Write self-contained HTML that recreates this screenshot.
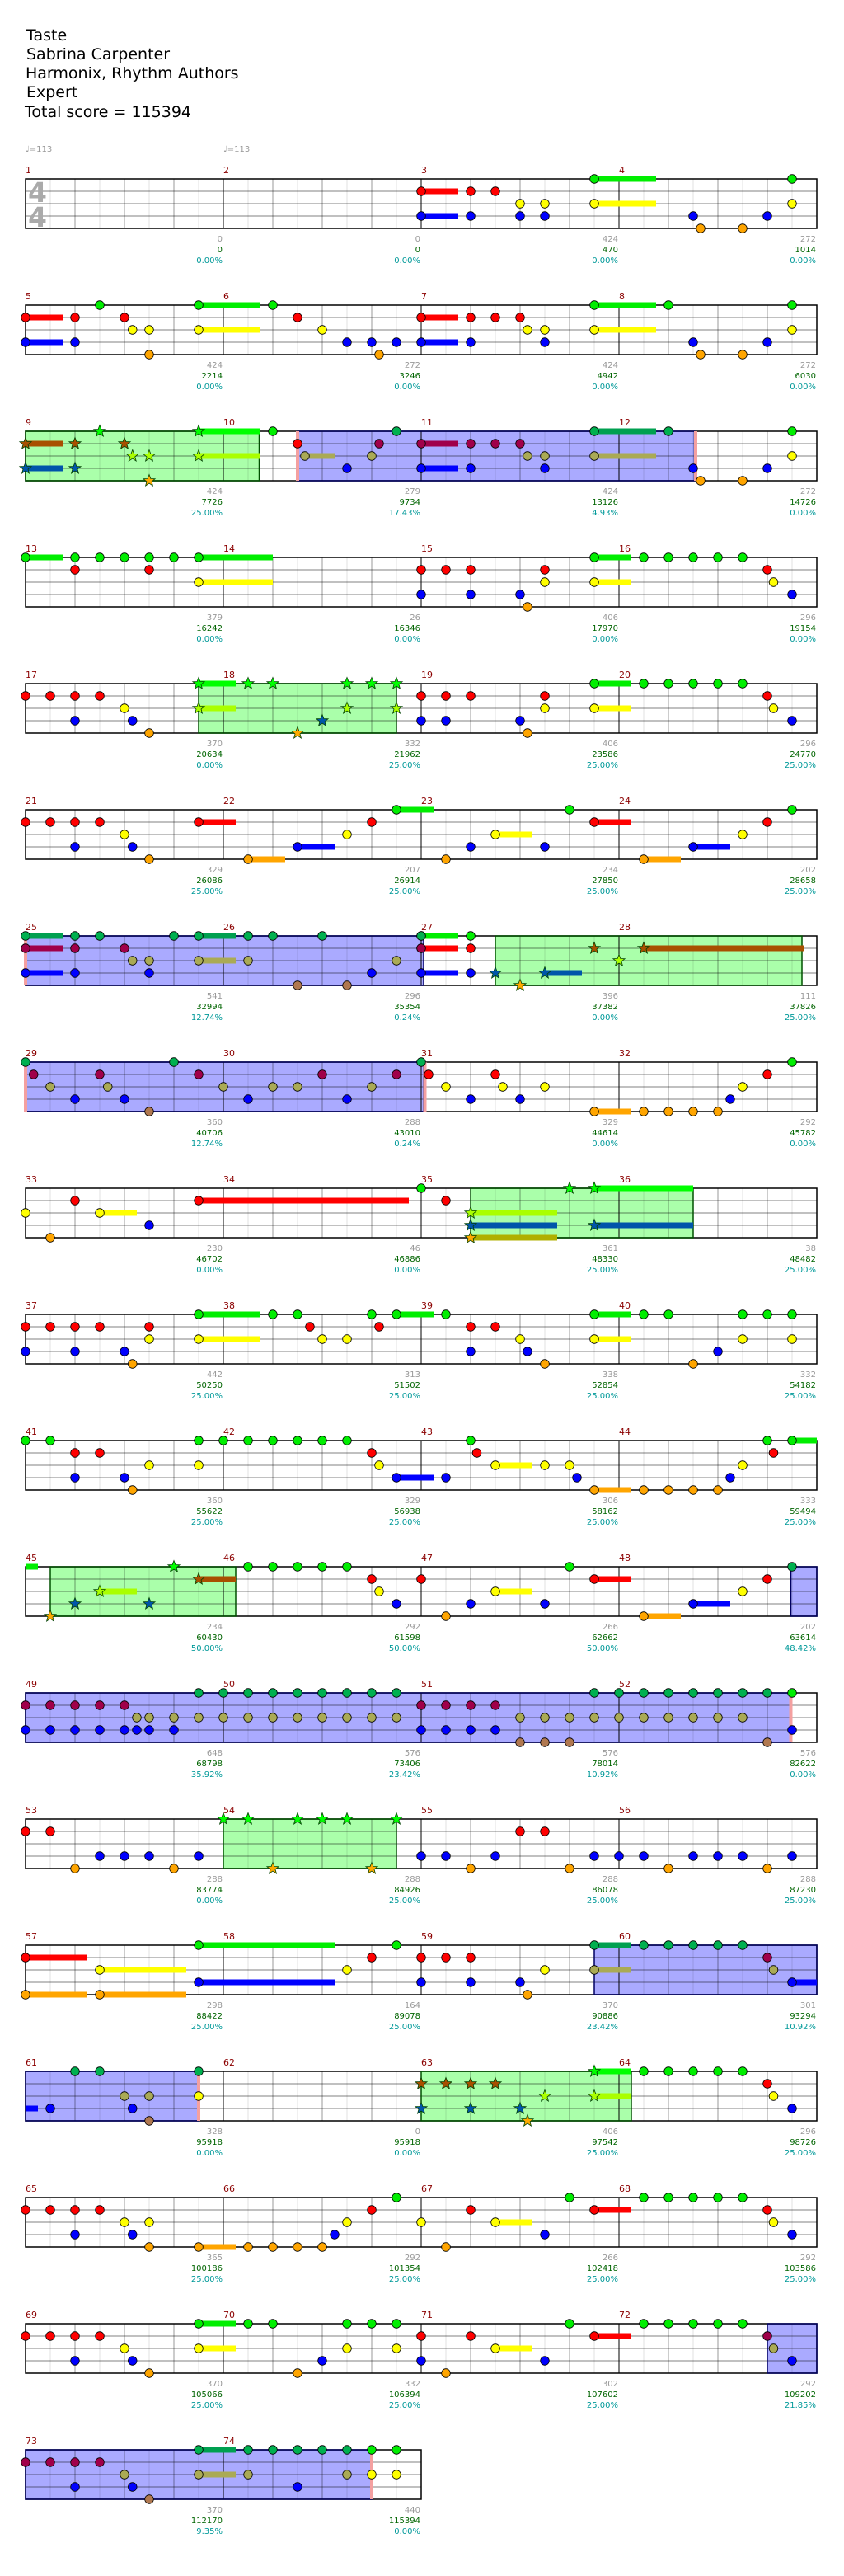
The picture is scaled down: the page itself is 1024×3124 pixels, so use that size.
<!DOCTYPE html>
<html><head><meta charset="utf-8"><style>
html,body{margin:0;padding:0;background:#fff;}
svg{display:block;}
text{font-family:"DejaVu Sans","Liberation Sans",sans-serif;}
.h{font-size:19px;fill:#000;}
.t{font-size:10px;fill:#999;}
.n{font-size:11px;fill:#8b0000;}
.a{font-size:10px;fill:#999;text-anchor:end;}
.s{font-size:10px;fill:#006400;text-anchor:end;}
.p{font-size:10px;fill:#009999;text-anchor:end;}
.ts{font-size:33px;fill:#aaa;font-weight:bold;}
</style></head><body>
<svg id="sv" xmlns="http://www.w3.org/2000/svg" width="1024" height="3124" viewBox="0 0 1024 3124">
<rect width="1024" height="3124" fill="#fff"/>
<g id="staffs"></g>
<text class="h" x="32" y="49">Taste</text>
<text class="h" x="32" y="72">Sabrina Carpenter</text>
<text class="h" x="31" y="95">Harmonix, Rhythm Authors</text>
<text class="h" x="32" y="118">Expert</text>
<text class="h" x="30" y="142">Total score = 115394</text>
<text class="t" x="31" y="184">♩=113</text>
<text class="t" x="271" y="184">♩=113</text>
<text class="ts" x="34" y="245">4</text>
<text class="ts" x="34" y="275">4</text>

<g transform="translate(0,217)"><text class="n" x="31" y="-7">1</text><text class="n" x="271" y="-7">2</text><text class="n" x="511" y="-7">3</text><text class="n" x="751" y="-7">4</text>
<text class="a" x="270" y="76">0</text><text class="s" x="270" y="89">0</text><text class="p" x="270" y="102">0.00%</text>
<text class="a" x="510" y="76">0</text><text class="s" x="510" y="89">0</text><text class="p" x="510" y="102">0.00%</text>
<text class="a" x="750" y="76">424</text><text class="s" x="750" y="89">470</text><text class="p" x="750" y="102">0.00%</text>
<text class="a" x="990" y="76">272</text><text class="s" x="990" y="89">1014</text><text class="p" x="990" y="102">0.00%</text></g>

<g transform="translate(0,370)"><text class="n" x="31" y="-7">5</text><text class="n" x="271" y="-7">6</text><text class="n" x="511" y="-7">7</text><text class="n" x="751" y="-7">8</text>
<text class="a" x="270" y="76">424</text><text class="s" x="270" y="89">2214</text><text class="p" x="270" y="102">0.00%</text>
<text class="a" x="510" y="76">272</text><text class="s" x="510" y="89">3246</text><text class="p" x="510" y="102">0.00%</text>
<text class="a" x="750" y="76">424</text><text class="s" x="750" y="89">4942</text><text class="p" x="750" y="102">0.00%</text>
<text class="a" x="990" y="76">272</text><text class="s" x="990" y="89">6030</text><text class="p" x="990" y="102">0.00%</text></g>

<g transform="translate(0,523)"><text class="n" x="31" y="-7">9</text><text class="n" x="271" y="-7">10</text><text class="n" x="511" y="-7">11</text><text class="n" x="751" y="-7">12</text>
<text class="a" x="270" y="76">424</text><text class="s" x="270" y="89">7726</text><text class="p" x="270" y="102">25.00%</text>
<text class="a" x="510" y="76">279</text><text class="s" x="510" y="89">9734</text><text class="p" x="510" y="102">17.43%</text>
<text class="a" x="750" y="76">424</text><text class="s" x="750" y="89">13126</text><text class="p" x="750" y="102">4.93%</text>
<text class="a" x="990" y="76">272</text><text class="s" x="990" y="89">14726</text><text class="p" x="990" y="102">0.00%</text></g>

<g transform="translate(0,676)"><text class="n" x="31" y="-7">13</text><text class="n" x="271" y="-7">14</text><text class="n" x="511" y="-7">15</text><text class="n" x="751" y="-7">16</text>
<text class="a" x="270" y="76">379</text><text class="s" x="270" y="89">16242</text><text class="p" x="270" y="102">0.00%</text>
<text class="a" x="510" y="76">26</text><text class="s" x="510" y="89">16346</text><text class="p" x="510" y="102">0.00%</text>
<text class="a" x="750" y="76">406</text><text class="s" x="750" y="89">17970</text><text class="p" x="750" y="102">0.00%</text>
<text class="a" x="990" y="76">296</text><text class="s" x="990" y="89">19154</text><text class="p" x="990" y="102">0.00%</text></g>

<g transform="translate(0,829)"><text class="n" x="31" y="-7">17</text><text class="n" x="271" y="-7">18</text><text class="n" x="511" y="-7">19</text><text class="n" x="751" y="-7">20</text>
<text class="a" x="270" y="76">370</text><text class="s" x="270" y="89">20634</text><text class="p" x="270" y="102">0.00%</text>
<text class="a" x="510" y="76">332</text><text class="s" x="510" y="89">21962</text><text class="p" x="510" y="102">25.00%</text>
<text class="a" x="750" y="76">406</text><text class="s" x="750" y="89">23586</text><text class="p" x="750" y="102">25.00%</text>
<text class="a" x="990" y="76">296</text><text class="s" x="990" y="89">24770</text><text class="p" x="990" y="102">25.00%</text></g>

<g transform="translate(0,982)"><text class="n" x="31" y="-7">21</text><text class="n" x="271" y="-7">22</text><text class="n" x="511" y="-7">23</text><text class="n" x="751" y="-7">24</text>
<text class="a" x="270" y="76">329</text><text class="s" x="270" y="89">26086</text><text class="p" x="270" y="102">25.00%</text>
<text class="a" x="510" y="76">207</text><text class="s" x="510" y="89">26914</text><text class="p" x="510" y="102">25.00%</text>
<text class="a" x="750" y="76">234</text><text class="s" x="750" y="89">27850</text><text class="p" x="750" y="102">25.00%</text>
<text class="a" x="990" y="76">202</text><text class="s" x="990" y="89">28658</text><text class="p" x="990" y="102">25.00%</text></g>

<g transform="translate(0,1135)"><text class="n" x="31" y="-7">25</text><text class="n" x="271" y="-7">26</text><text class="n" x="511" y="-7">27</text><text class="n" x="751" y="-7">28</text>
<text class="a" x="270" y="76">541</text><text class="s" x="270" y="89">32994</text><text class="p" x="270" y="102">12.74%</text>
<text class="a" x="510" y="76">296</text><text class="s" x="510" y="89">35354</text><text class="p" x="510" y="102">0.24%</text>
<text class="a" x="750" y="76">396</text><text class="s" x="750" y="89">37382</text><text class="p" x="750" y="102">0.00%</text>
<text class="a" x="990" y="76">111</text><text class="s" x="990" y="89">37826</text><text class="p" x="990" y="102">25.00%</text></g>

<g transform="translate(0,1288)"><text class="n" x="31" y="-7">29</text><text class="n" x="271" y="-7">30</text><text class="n" x="511" y="-7">31</text><text class="n" x="751" y="-7">32</text>
<text class="a" x="270" y="76">360</text><text class="s" x="270" y="89">40706</text><text class="p" x="270" y="102">12.74%</text>
<text class="a" x="510" y="76">288</text><text class="s" x="510" y="89">43010</text><text class="p" x="510" y="102">0.24%</text>
<text class="a" x="750" y="76">329</text><text class="s" x="750" y="89">44614</text><text class="p" x="750" y="102">0.00%</text>
<text class="a" x="990" y="76">292</text><text class="s" x="990" y="89">45782</text><text class="p" x="990" y="102">0.00%</text></g>

<g transform="translate(0,1441)"><text class="n" x="31" y="-7">33</text><text class="n" x="271" y="-7">34</text><text class="n" x="511" y="-7">35</text><text class="n" x="751" y="-7">36</text>
<text class="a" x="270" y="76">230</text><text class="s" x="270" y="89">46702</text><text class="p" x="270" y="102">0.00%</text>
<text class="a" x="510" y="76">46</text><text class="s" x="510" y="89">46886</text><text class="p" x="510" y="102">0.00%</text>
<text class="a" x="750" y="76">361</text><text class="s" x="750" y="89">48330</text><text class="p" x="750" y="102">25.00%</text>
<text class="a" x="990" y="76">38</text><text class="s" x="990" y="89">48482</text><text class="p" x="990" y="102">25.00%</text></g>

<g transform="translate(0,1594)"><text class="n" x="31" y="-7">37</text><text class="n" x="271" y="-7">38</text><text class="n" x="511" y="-7">39</text><text class="n" x="751" y="-7">40</text>
<text class="a" x="270" y="76">442</text><text class="s" x="270" y="89">50250</text><text class="p" x="270" y="102">25.00%</text>
<text class="a" x="510" y="76">313</text><text class="s" x="510" y="89">51502</text><text class="p" x="510" y="102">25.00%</text>
<text class="a" x="750" y="76">338</text><text class="s" x="750" y="89">52854</text><text class="p" x="750" y="102">25.00%</text>
<text class="a" x="990" y="76">332</text><text class="s" x="990" y="89">54182</text><text class="p" x="990" y="102">25.00%</text></g>

<g transform="translate(0,1747)"><text class="n" x="31" y="-7">41</text><text class="n" x="271" y="-7">42</text><text class="n" x="511" y="-7">43</text><text class="n" x="751" y="-7">44</text>
<text class="a" x="270" y="76">360</text><text class="s" x="270" y="89">55622</text><text class="p" x="270" y="102">25.00%</text>
<text class="a" x="510" y="76">329</text><text class="s" x="510" y="89">56938</text><text class="p" x="510" y="102">25.00%</text>
<text class="a" x="750" y="76">306</text><text class="s" x="750" y="89">58162</text><text class="p" x="750" y="102">25.00%</text>
<text class="a" x="990" y="76">333</text><text class="s" x="990" y="89">59494</text><text class="p" x="990" y="102">25.00%</text></g>

<g transform="translate(0,1900)"><text class="n" x="31" y="-7">45</text><text class="n" x="271" y="-7">46</text><text class="n" x="511" y="-7">47</text><text class="n" x="751" y="-7">48</text>
<text class="a" x="270" y="76">234</text><text class="s" x="270" y="89">60430</text><text class="p" x="270" y="102">50.00%</text>
<text class="a" x="510" y="76">292</text><text class="s" x="510" y="89">61598</text><text class="p" x="510" y="102">50.00%</text>
<text class="a" x="750" y="76">266</text><text class="s" x="750" y="89">62662</text><text class="p" x="750" y="102">50.00%</text>
<text class="a" x="990" y="76">202</text><text class="s" x="990" y="89">63614</text><text class="p" x="990" y="102">48.42%</text></g>

<g transform="translate(0,2053)"><text class="n" x="31" y="-7">49</text><text class="n" x="271" y="-7">50</text><text class="n" x="511" y="-7">51</text><text class="n" x="751" y="-7">52</text>
<text class="a" x="270" y="76">648</text><text class="s" x="270" y="89">68798</text><text class="p" x="270" y="102">35.92%</text>
<text class="a" x="510" y="76">576</text><text class="s" x="510" y="89">73406</text><text class="p" x="510" y="102">23.42%</text>
<text class="a" x="750" y="76">576</text><text class="s" x="750" y="89">78014</text><text class="p" x="750" y="102">10.92%</text>
<text class="a" x="990" y="76">576</text><text class="s" x="990" y="89">82622</text><text class="p" x="990" y="102">0.00%</text></g>

<g transform="translate(0,2206)"><text class="n" x="31" y="-7">53</text><text class="n" x="271" y="-7">54</text><text class="n" x="511" y="-7">55</text><text class="n" x="751" y="-7">56</text>
<text class="a" x="270" y="76">288</text><text class="s" x="270" y="89">83774</text><text class="p" x="270" y="102">0.00%</text>
<text class="a" x="510" y="76">288</text><text class="s" x="510" y="89">84926</text><text class="p" x="510" y="102">25.00%</text>
<text class="a" x="750" y="76">288</text><text class="s" x="750" y="89">86078</text><text class="p" x="750" y="102">25.00%</text>
<text class="a" x="990" y="76">288</text><text class="s" x="990" y="89">87230</text><text class="p" x="990" y="102">25.00%</text></g>

<g transform="translate(0,2359)"><text class="n" x="31" y="-7">57</text><text class="n" x="271" y="-7">58</text><text class="n" x="511" y="-7">59</text><text class="n" x="751" y="-7">60</text>
<text class="a" x="270" y="76">298</text><text class="s" x="270" y="89">88422</text><text class="p" x="270" y="102">25.00%</text>
<text class="a" x="510" y="76">164</text><text class="s" x="510" y="89">89078</text><text class="p" x="510" y="102">25.00%</text>
<text class="a" x="750" y="76">370</text><text class="s" x="750" y="89">90886</text><text class="p" x="750" y="102">23.42%</text>
<text class="a" x="990" y="76">301</text><text class="s" x="990" y="89">93294</text><text class="p" x="990" y="102">10.92%</text></g>

<g transform="translate(0,2512)"><text class="n" x="31" y="-7">61</text><text class="n" x="271" y="-7">62</text><text class="n" x="511" y="-7">63</text><text class="n" x="751" y="-7">64</text>
<text class="a" x="270" y="76">328</text><text class="s" x="270" y="89">95918</text><text class="p" x="270" y="102">0.00%</text>
<text class="a" x="510" y="76">0</text><text class="s" x="510" y="89">95918</text><text class="p" x="510" y="102">0.00%</text>
<text class="a" x="750" y="76">406</text><text class="s" x="750" y="89">97542</text><text class="p" x="750" y="102">25.00%</text>
<text class="a" x="990" y="76">296</text><text class="s" x="990" y="89">98726</text><text class="p" x="990" y="102">25.00%</text></g>

<g transform="translate(0,2665)"><text class="n" x="31" y="-7">65</text><text class="n" x="271" y="-7">66</text><text class="n" x="511" y="-7">67</text><text class="n" x="751" y="-7">68</text>
<text class="a" x="270" y="76">365</text><text class="s" x="270" y="89">100186</text><text class="p" x="270" y="102">25.00%</text>
<text class="a" x="510" y="76">292</text><text class="s" x="510" y="89">101354</text><text class="p" x="510" y="102">25.00%</text>
<text class="a" x="750" y="76">266</text><text class="s" x="750" y="89">102418</text><text class="p" x="750" y="102">25.00%</text>
<text class="a" x="990" y="76">292</text><text class="s" x="990" y="89">103586</text><text class="p" x="990" y="102">25.00%</text></g>

<g transform="translate(0,2818)"><text class="n" x="31" y="-7">69</text><text class="n" x="271" y="-7">70</text><text class="n" x="511" y="-7">71</text><text class="n" x="751" y="-7">72</text>
<text class="a" x="270" y="76">370</text><text class="s" x="270" y="89">105066</text><text class="p" x="270" y="102">25.00%</text>
<text class="a" x="510" y="76">332</text><text class="s" x="510" y="89">106394</text><text class="p" x="510" y="102">25.00%</text>
<text class="a" x="750" y="76">302</text><text class="s" x="750" y="89">107602</text><text class="p" x="750" y="102">25.00%</text>
<text class="a" x="990" y="76">292</text><text class="s" x="990" y="89">109202</text><text class="p" x="990" y="102">21.85%</text></g>

<g transform="translate(0,2971)"><text class="n" x="31" y="-7">73</text><text class="n" x="271" y="-7">74</text>
<text class="a" x="270" y="76">370</text><text class="s" x="270" y="89">112170</text><text class="p" x="270" y="102">9.35%</text>
<text class="a" x="510" y="76">440</text><text class="s" x="510" y="89">115394</text><text class="p" x="510" y="102">0.00%</text></g>
</svg>
<script>
(function(){
var NS="http://www.w3.org/2000/svg";
var root=document.getElementById("staffs");
function el(n,a,p){var e=document.createElementNS(NS,n);for(var k in a)e.setAttribute(k,a[k]);(p||root).appendChild(e);return e;}
var LY={g:0,r:15,y:30,b:45,o:60};
var N={g:'#00ee00',r:'#ff0000',y:'#ffff00',b:'#0000ff',o:'#ffa500'};
var P={g:'#00b050',r:'#a0004a',y:'#aaaa55',b:'#0000ff',o:'#b07850'};
var PB={g:'#00a050',r:'#a0004a',y:'#aaaa55',b:'#0000ff',o:'#b07850'};
var S={g:'#00ff00',r:'#a85000',y:'#aaff00',b:'#0055aa',o:'#ffaa00'};
var SB={g:'#00ff00',r:'#a85000',y:'#aaff00',b:'#0055aa',o:'#b0b000'};
var rows=[
{n:"r32:3 b32:3 r36 r38 y40 y42 b36 b40 b42 g46:5 y46:5 g62 y62 b54 b60 o54.6 o58"},
{n:"g6 g14:5 g20 g46:5 g52 g62 r0:3 r4 r8 r22 r32:3 r36 r38 r40 y8.65 y10 y14:5 y24 y40.6 y42 y46:5 y62 b0:3 b4 b26 b28 b30 b32:3 b36 b42 b54 b60 o10 o28.6 o54.6 o58"},
{R:[["g",0,18.9],["b",22,54.1]],k:[22,54.2],n:"*g6 *g14:5 *r0:3 *r4 *r8 *y8.65 *y10 *y14:5 *b0:3 *b4 *o10 g20 pg30 pg46:5 pg52 g62 r22 pr28.6 pr32:3 pr36 pr38 pr40 py22.6:2.4 py28 py40.6 py42 py46:5 y62 b26 b32:3 b36 b42 b54 b60 o54.6 o58"},
{n:"g0:3 g4 g6 g8 g10 g12 g14:6 g46:3 g50 g52 g54 g56 g58 r4 r10 r32 r34 r36 r42 r60 y14:6 y42 y46:3 y60.5 b32 b36 b40 b62 o40.6"},
{R:[["g",14,30]],n:"*g14:3 *g18 *g20 *g26 *g28 *g30 *y14:3 *y26 *y30 *b24 *o22 r0 r2 r4 r6 y8 b4 b8.65 o10 r32 r34 r36 r42 r60 y42 y46:3 y60.5 b32 b34 b40 b62 o40.6 g46:3 g50 g52 g54 g56 g58"},
{n:"r0 r2 r4 r6 r14:3 r28 r46:3 r60 y8 y26 y38:3 y58 b4 b8.65 b22:3 b36 b42 b54:3 o10 o18:3 o34 o50:3 g30:3 g44 g62"},
{R:[["b",0,32.2],["g",38,62.8]],k:[0],n:"pg0:3 pg4 pg6 pg12 pg14:3 pg18 pg20 pg24 g32:3 pg32 pr0:3 pr4 pr8 r32:3 pr32 py8.65 py10 py14:3 py18 py30 b0:3 b4 b10 b28 b32:3 b36 g36 r36 po22 po26 *b38 *b42:3 *o40 *r46 *r50:13 *y48"},
{R:[["b",0,32.2]],k:[0,32.3],n:"pg0 pg12 pg32 pr0.65 pr6 pr14 pr24 pr30 r32.6 py2 py6.65 py16 py20 py22 py28 b4 b8 b18 b26 po10 y34 y38.6 y42 y58 b36 b40 b57 o46:3 o50 o52 o54 o56 r38 r60 g62"},
{R:[["g",36,54]],n:"y0 r4 y6:3 b10 o2 r14:17 g32 r34 *g44 *g46:8 *y36:7 *b36:7 *b46:8 *o36:7"},
{n:"g14:5 g20 g22 g28 g30:3 g34 g46:3 g50 g52 g58 g60 g62 r0 r2 r4 r6 r10 r23 r28.6 r36 r38 y10 y14:5 y24 y26 y40 y46:3 y58 y62 b0 b4 b8 b36 b40.6 b56 o8.65 o42 o54"},
{n:"g0 g2 g14 g16 g18 g20 g22 g24 g26 g36 g60 g62:2 r4 r6 r28 r36.5 r60.5 y10 y14 y28.6 y38:3 y42 y44 y58 b4 b8 b30:3 b34 b44.6 b57 o8.65 o46:3 o50 o52 o54 o56"},
{R:[["g",2,17],["b",61.9,64]],n:"xg0:1 *g12 *r14:3 *y6:3 *b4 *b10 *o2 g18 g20 g22 g24 g26 g44 pg62 r28 r32 r46:3 r60 y28.6 y38:3 y58 b30 b36 b42 b54:3 o34 o50:3"},
{R:[["b",0,61.9]],k:[61.9],n:"pg14 pg16 pg18 pg20 pg22 pg24 pg26 pg28 pg30 pg46 pg48 pg50 pg52 pg54 pg56 pg58 pg60 g62 pr0 pr2 pr4 pr6 pr8 pr32 pr34 pr36 pr38 py9 py10 py12 py14 py16 py18 py20 py22 py24 py26 py28 py30 py40 py42 py44 py46 py48 py50 py52 py54 py56 py58 b0 b2 b4 b6 b8 b9 b10 b12 b32 b34 b36 b38 b62 po40 po42 po44 po60"},
{R:[["g",16,30]],n:"*g16 *g18 *g22 *g24 *g26 *g30 *o20 *o28 r0 r2 b6 b8 b10 b14 o4 o12 b32 b34 b38 r40 r42 o36 o44 b46 b48 b50 b54 b56 b58 b62 o52 o60"},
{R:[["b",46,64]],n:"g14:11 g30 pg46:3 pg50 pg52 pg54 pg56 pg58 r0:5 r28 r32 r34 r36 pr60 y6:7 y26 y42 py46:3 py60.5 b14:11 b32 b36 b40 b62:2 o0:5 o6:7 o40.6"},
{R:[["b",0,14],["g",32,49]],k:[14],n:"xb0:1 pg4 pg6 pg14 py8 py10 y14 b2 b8.65 po10 *r32 *r34 *r36 *r38 *y42 *y46:3 *b32 *b36 *b40 *o40.6 *g46:3 g50 g52 g54 g56 g58 r60 y60.5 b62"},
{n:"g30 g44 g50 g52 g54 g56 g58 r0 r2 r4 r6 r28 r36 r46:3 r60 y8 y10 y26 y32 y38:3 y60.5 b4 b8.65 b25 b42 b62 o10 o14:3 o18 o20 o22 o24 o34"},
{R:[["b",60,64]],n:"g14:3 g18 g20 g26 g28 g30 g44 g50 g52 g54 g56 g58 r0 r2 r4 r6 r32 r36 r46:3 pr60 y8 y14:3 y26 y30 y38:3 py60.5 b4 b8.65 b24 b32 b42 b62 o10 o22 o34"},
{R:[["b",0,28]],k:[28],w:480,n:"pr0 pr2 pr4 pr6 pg14:3 pg18 pg20 pg22 pg24 pg26 g28 g30 py8 py14:3 py18 py26 y28 y30 b4 b8.65 b22 po10"}
];
function starPts(cx,cy,R){var p=[];for(var i=0;i<10;i++){var rr=i%2?R*0.42:R;var a=-Math.PI/2+i*Math.PI/5;p.push((cx+rr*Math.cos(a)).toFixed(1)+","+(cy+rr*Math.sin(a)).toFixed(1));}return p.join(" ");}
rows.forEach(function(row,ri){
  var T=217+153*ri, X=31, W=row.w||960;
  var g=el("g",{transform:"translate(0,"+T+")"});
  el("rect",{x:X,y:0,width:W,height:60,fill:"#fff"},g);
  (row.R||[]).forEach(function(r){
    var x1=X+r[1]*15,x2=X+Math.min(r[2]*15,W);
    el("rect",{x:x1,y:0,width:x2-x1,height:60,fill:r[0]=="g"?"#aaffaa":"#aaaaff"},g);
  });
  for(var i=1;i<W/30;i++){var x=X+i*30;var c=(i%8==0)?"#000":(i%2==0?"rgba(0,0,0,0.4)":"rgba(0,0,0,0.12)");
    el("line",{x1:x,y1:0,x2:x,y2:60,stroke:c,"stroke-width":1},g);}
  for(var j=1;j<4;j++)el("line",{x1:X,y1:j*15,x2:X+W,y2:j*15,stroke:"rgba(0,0,0,0.4)","stroke-width":1.2},g);
  el("rect",{x:X,y:0,width:W,height:60,fill:"none",stroke:"#000","stroke-width":1.5},g);
  (row.R||[]).forEach(function(r){
    var x1=X+r[1]*15,x2=X+Math.min(r[2]*15,W);
    el("rect",{x:x1,y:0,width:x2-x1,height:60,fill:"none",stroke:r[0]=="g"?"#005000":"#000060","stroke-width":1.5},g);
  });
  (row.k||[]).forEach(function(p){el("rect",{x:X+p*15-2,y:0,width:4,height:60,fill:"#f4a0a0"},g);});
  var notes=row.n.split(/\s+/).map(function(t){var m=t.match(/^([xp*]?)([gryob])([\d.]+)(?::([\d.]+))?$/);return m?{t:m[1],l:m[2],p:+m[3],d:m[4]?+m[4]:0}:null;}).filter(Boolean);
  notes.forEach(function(n){ if(!n.d)return;
    var col=n.t=="*"?SB[n.l]:(n.t=="p"?PB[n.l]:N[n.l]);
    var x=X+n.p*15, len=Math.min(n.d*15, X+W-x);
    el("rect",{x:x,y:LY[n.l]-3.5,width:len,height:7,fill:col},g);});
  notes.forEach(function(n){ if(n.t=="x")return;
    var x=X+n.p*15,y=LY[n.l];
    if(n.t=="*") el("polygon",{points:starPts(x,y,7.5),fill:S[n.l],stroke:"#004000","stroke-width":0.8},g);
    else el("ellipse",{cx:x,cy:y,rx:5.3,ry:5.3,fill:n.t=="p"?P[n.l]:N[n.l],stroke:"#000","stroke-width":0.8},g);
  });
});
})();
</script>
</body></html>
